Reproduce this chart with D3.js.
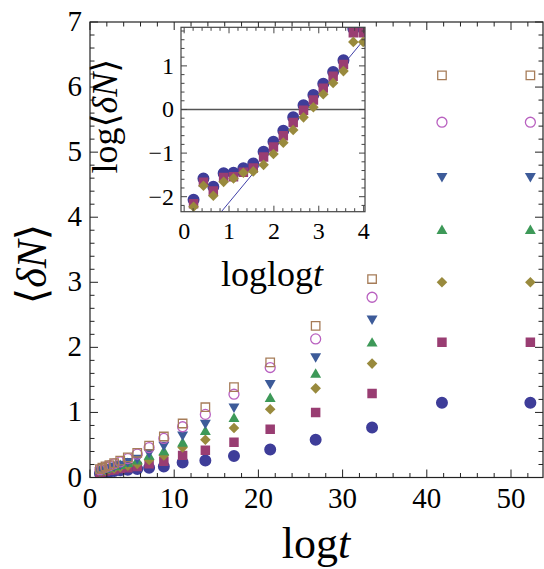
<!DOCTYPE html>
<html>
<head>
<meta charset="utf-8">
<script src="https://cdn.jsdelivr.net/npm/d3@7"></script>
<style>
  body { margin: 0; background: #fff; }
  text { font-family: "Liberation Serif", "DejaVu Serif", serif; fill: #000; }
</style>
</head>
<body>
<div id="chart"></div>
<script>
// main plot data: <dN> against log t, 7 series
var logT       = [1.18, 1.47, 1.84, 2.30, 2.87, 3.59, 4.49, 5.61, 7.02, 8.77, 11.0, 13.7, 17.1, 21.4, 26.8, 33.5, 41.8, 52.3];
var dnCircle   = [0.06, 0.07, 0.08, 0.09, 0.10, 0.11, 0.12, 0.13, 0.15, 0.17, 0.23, 0.26, 0.33, 0.43, 0.58, 0.77, 1.15, 1.15];
var dnSquare   = [0.08, 0.09, 0.10, 0.11, 0.12, 0.14, 0.15, 0.17, 0.21, 0.25, 0.34, 0.42, 0.54, 0.74, 1.00, 1.29, 2.08, 2.08];
var dnDiamond  = [0.09, 0.10, 0.11, 0.13, 0.14, 0.16, 0.18, 0.21, 0.27, 0.34, 0.46, 0.58, 0.76, 1.05, 1.37, 1.75, 3.00, 3.00];
var dnTriUp    = [0.10, 0.11, 0.12, 0.14, 0.16, 0.18, 0.21, 0.25, 0.32, 0.39, 0.52, 0.70, 0.90, 1.21, 1.58, 2.06, 3.79, 3.79];
var dnTriDown  = [0.11, 0.12, 0.14, 0.16, 0.18, 0.21, 0.25, 0.30, 0.39, 0.50, 0.66, 0.84, 1.09, 1.45, 1.86, 2.44, 4.63, 4.63];
var dnOpenCirc = [0.12, 0.14, 0.16, 0.18, 0.21, 0.24, 0.29, 0.36, 0.46, 0.60, 0.78, 0.97, 1.28, 1.69, 2.13, 2.77, 5.46, 5.46];
var dnOpenSq   = [0.13, 0.15, 0.17, 0.19, 0.22, 0.26, 0.31, 0.38, 0.49, 0.63, 0.83, 1.08, 1.39, 1.77, 2.33, 3.05, 6.18, 6.18];

// inset data: log<dN> against loglog t
var loglogT    = [0.21, 0.43, 0.65, 0.88, 1.10, 1.32, 1.54, 1.77, 1.99, 2.21, 2.43, 2.66, 2.88, 3.10, 3.32, 3.55, 3.77, 3.99];
var logCircle  = [-2.07, -1.58, -1.77, -1.46, -1.45, -1.35, -1.24, -0.97, -0.74, -0.49, -0.18, 0.10, 0.33, 0.59, 0.86, 1.13, 1.85, 1.85];
var logSquare  = [-2.16, -1.67, -1.87, -1.56, -1.54, -1.44, -1.34, -1.09, -0.86, -0.60, -0.30, -0.02, 0.22, 0.49, 0.76, 1.03, 1.76, 1.76];
var logDiamond = [-2.23, -1.75, -1.98, -1.66, -1.58, -1.45, -1.42, -1.27, -1.02, -0.76, -0.47, -0.18, 0.05, 0.35, 0.61, 0.88, 1.55, 1.55];
var fitLine    = [[0.80, -2.38], [4.03, 1.63]];

var xTicks = [0, 10, 20, 30, 40, 50];
var yTicks = [0, 1, 2, 3, 4, 5, 6, 7];
var insetXTicks = [0, 1, 2, 3, 4];
var insetYTicks = [-2, -1, 0, 1];

var width = 544, height = 569;
var svg = d3.select("#chart").append("svg")
    .attr("width", width).attr("height", height);

// main frame
var mL = 90, mR = 543, mT = 22, mB = 477.5;
var x = d3.scaleLinear().domain([0, 53.8]).range([mL, mR]);
var y = d3.scaleLinear().domain([0, 7]).range([mB, mT]);

// inset frame
var iL = 181, iR = 365, iT = 27.3, iB = 211.7;
var ix = d3.scaleLinear().domain([-0.07, 4.03]).range([iL, iR]);
var iy = d3.scaleLinear().domain([-2.344, 1.885]).range([iB, iT]);

var colors = {
  circle: "#3e3d99", square: "#993d72", diamond: "#998a3d",
  triUp: "#3d9958", triDown: "#3d5b99", openCirc: "#b961c0", openSq: "#a67c58"
};

function sym(type, area) { return d3.symbol().type(type).size(area)(); }

// markers: path, rotation, fill or stroke
var markers = {
  circle:   { d: sym(d3.symbolCircle, 113), rot: 0, filled: true },
  square:   { d: sym(d3.symbolSquare, 90), rot: 0, filled: true },
  diamond:  { d: sym(d3.symbolSquare, 56), rot: 45, filled: true },
  triUp:    { d: sym(d3.symbolTriangle, 52), rot: 0, filled: true },
  triDown:  { d: sym(d3.symbolTriangle, 52), rot: 180, filled: true },
  openCirc: { d: sym(d3.symbolCircle, 78), rot: 0, filled: false },
  openSq:   { d: sym(d3.symbolSquare, 72), rot: 0, filled: false }
};

var mainSeries = [
  { key: "circle", vals: dnCircle },
  { key: "square", vals: dnSquare },
  { key: "diamond", vals: dnDiamond },
  { key: "triUp", vals: dnTriUp },
  { key: "triDown", vals: dnTriDown },
  { key: "openCirc", vals: dnOpenCirc },
  { key: "openSq", vals: dnOpenSq }
];

var defs = svg.append("defs");
defs.append("clipPath").attr("id", "clipMain").append("rect")
    .attr("x", mL).attr("y", mT).attr("width", mR - mL).attr("height", mB - mT);
defs.append("clipPath").attr("id", "clipInset").append("rect")
    .attr("x", iL).attr("y", iT).attr("width", iR - iL).attr("height", iB - iT);

function drawPoints(g, series, xs, sx, sy) {
  series.forEach(function(s) {
    var m = markers[s.key];
    g.selectAll(null)
      .data(s.vals)
      .enter()
      .append("path")
      .attr("d", m.d)
      .attr("transform", function(d, i) {
        return "translate(" + sx(xs[i]) + "," + sy(d) + ") rotate(" + m.rot + ")";
      })
      .attr("fill", m.filled ? colors[s.key] : "none")
      .attr("stroke", m.filled ? "none" : colors[s.key])
      .attr("stroke-width", 1.3);
  });
}

// ticks on all four sides, pointing inwards
function frameTicks(g, sx, sy, xMaj, xMinStep, yMaj, yMinStep, majLen, minLen, col) {
  var xd = sx.domain(), yd = sy.domain();
  var x0 = sx.range()[0], x1 = sx.range()[1], y0 = sy.range()[0], y1 = sy.range()[1];
  var xMin = d3.range(Math.ceil(xd[0] / xMinStep) * xMinStep, xd[1] + 1e-9, xMinStep);
  var yMin = d3.range(Math.ceil(yd[0] / yMinStep) * yMinStep, yd[1] + 1e-9, yMinStep);
  function isMaj(v, arr) { return arr.some(function(a) { return Math.abs(a - v) < 1e-6; }); }
  xMin.forEach(function(v) {
    var L = isMaj(v, xMaj) ? majLen : minLen, px = sx(v);
    g.append("line").attr("x1", px).attr("x2", px).attr("y1", y0).attr("y2", y0 - L);
    g.append("line").attr("x1", px).attr("x2", px).attr("y1", y1).attr("y2", y1 + L);
  });
  yMin.forEach(function(v) {
    var L = isMaj(v, yMaj) ? majLen : minLen, py = sy(v);
    g.append("line").attr("x1", x0).attr("x2", x0 + L).attr("y1", py).attr("y2", py);
    g.append("line").attr("x1", x1).attr("x2", x1 - L).attr("y1", py).attr("y2", py);
  });
  g.selectAll("line").attr("stroke", col).attr("stroke-width", 1);
  g.append("rect").attr("x", x0).attr("y", y1).attr("width", x1 - x0).attr("height", y0 - y1)
    .attr("fill", "none").attr("stroke", col).attr("stroke-width", 1.2);
}

// ---- main plot ----
var mainPts = svg.append("g").attr("clip-path", "url(#clipMain)");
drawPoints(mainPts, mainSeries, logT, x, y);
frameTicks(svg.append("g"), x, y, xTicks, 2, yTicks, 0.2, 8, 4.5, "#222");

svg.append("g").selectAll("text").data(xTicks).enter().append("text")
  .attr("x", function(d) { return x(d); }).attr("y", 508)
  .attr("text-anchor", "middle").attr("font-size", 29).text(function(d) { return d; });
svg.append("g").selectAll("text").data(yTicks).enter().append("text")
  .attr("x", 82).attr("y", function(d) { return y(d) + 9; })
  .attr("text-anchor", "end").attr("font-size", 29).text(function(d) { return d; });

var xl = svg.append("text").attr("x", 316).attr("y", 558).attr("text-anchor", "middle").attr("font-size", 44);
xl.append("tspan").text("log");
xl.append("tspan").attr("font-style", "italic").text("t");

var yl = svg.append("text").attr("transform", "translate(46,264) rotate(-90)")
  .attr("text-anchor", "middle").attr("font-size", 42);
yl.append("tspan").text("\u27E8");
yl.append("tspan").attr("font-style", "italic").text("\u03B4N");
yl.append("tspan").text("\u27E9");

// ---- inset ----
svg.append("rect").attr("x", iL).attr("y", iT).attr("width", iR - iL).attr("height", iB - iT).attr("fill", "#fff");
var insetG = svg.append("g").attr("clip-path", "url(#clipInset)");
insetG.append("line")
  .attr("x1", iL).attr("x2", iR).attr("y1", iy(0)).attr("y2", iy(0))
  .attr("stroke", "#555").attr("stroke-width", 1.4);
insetG.append("path")
  .attr("d", d3.line().x(function(d) { return ix(d[0]); }).y(function(d) { return iy(d[1]); })(fitLine))
  .attr("stroke", "#4040a8").attr("stroke-width", 1).attr("fill", "none");
drawPoints(insetG, [
  { key: "circle", vals: logCircle },
  { key: "square", vals: logSquare },
  { key: "diamond", vals: logDiamond }
], loglogT, ix, iy);
frameTicks(svg.append("g"), ix, iy, insetXTicks, 0.2, insetYTicks, 0.2, 6, 3.5, "#444");

svg.append("g").selectAll("text").data(insetXTicks).enter().append("text")
  .attr("x", function(d) { return ix(d); }).attr("y", 239)
  .attr("text-anchor", "middle").attr("font-size", 24).text(function(d) { return d; });
svg.append("g").selectAll("text").data(insetYTicks).enter().append("text")
  .attr("x", 174).attr("y", function(d) { return iy(d) + 8; })
  .attr("text-anchor", "end").attr("font-size", 24)
  .text(function(d) { return d < 0 ? "\u2212" + Math.abs(d) : d; });

var ixl = svg.append("text").attr("x", 272).attr("y", 286).attr("text-anchor", "middle").attr("font-size", 36);
ixl.append("tspan").text("loglog");
ixl.append("tspan").attr("font-style", "italic").text("t");

var iyl = svg.append("text").attr("transform", "translate(117,116) rotate(-90)")
  .attr("text-anchor", "middle").attr("font-size", 36);
iyl.append("tspan").text("log\u27E8");
iyl.append("tspan").attr("font-style", "italic").text("\u03B4N");
iyl.append("tspan").text("\u27E9");
</script>
</body>
</html>
